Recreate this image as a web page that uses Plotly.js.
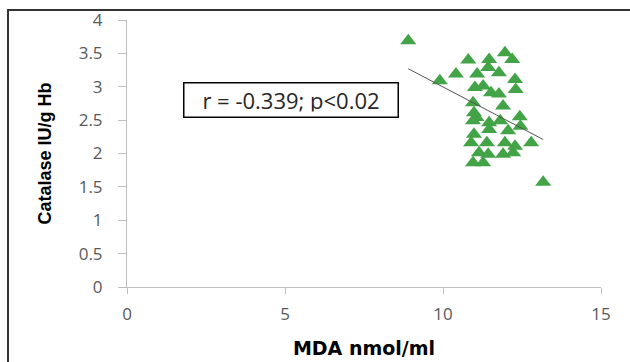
<!DOCTYPE html>
<html>
<head>
<meta charset="utf-8">
<script src="https://cdn.plot.ly/plotly-3.0.1.min.js"></script>
<style>
  html, body { margin: 0; padding: 0; background: #fff; }
  #wrap { position: relative; width: 630px; height: 362px; overflow: hidden; }
  #chart { width: 630px; height: 362px; }
  #frame { position: absolute; left: 7px; top: 9px; width: 640px; height: 400px;
           border-left: 2px solid #333; border-top: 2px solid #333; pointer-events: none; }
</style>
</head>
<body>
<div id="wrap">
  <div id="chart"></div>
  <div id="frame"></div>
</div>
<script>
// MDA (nmol/ml) values
const mda = [8.90, 9.90, 10.41, 10.80, 11.08, 11.01, 11.46, 11.43, 11.77, 11.96,
             12.19, 12.28, 12.30, 11.27, 11.52, 11.77, 10.95, 11.90, 10.98, 11.06,
             10.95, 11.46, 11.81, 12.43, 11.46, 12.06, 12.45, 10.98, 10.89, 11.39,
             12.79, 11.96, 12.28, 11.14, 11.43, 11.90, 12.22, 10.95, 11.27, 13.17];
// Catalase (IU/g Hb) values
const catalase = [3.69, 3.09, 3.19, 3.40, 3.19, 2.99, 3.41, 3.29, 3.21, 3.51,
                  3.41, 3.11, 2.96, 3.01, 2.91, 2.89, 2.76, 2.71, 2.61, 2.54,
                  2.49, 2.46, 2.49, 2.55, 2.36, 2.34, 2.41, 2.29, 2.16, 2.16,
                  2.16, 2.16, 2.11, 2.01, 1.99, 1.99, 2.01, 1.86, 1.86, 1.57];
// Trend line end points
const trendX = [8.90, 13.17];
const trendY = [3.27, 2.21];
const xTicks = [0, 5, 10, 15];
const yTicks = [0, 0.5, 1, 1.5, 2, 2.5, 3, 3.5, 4];
const annotationText = 'r = -0.339; p<0.02';

const tickFont = {family: 'Open Sans, sans-serif', size: 17, color: '#595959'};

const data = [
  {
    x: mda, y: catalase, type: 'scatter', mode: 'markers',
    marker: {symbol: 'triangle-up', size: 14, color: '#43a447'},
    hoverinfo: 'x+y'
  },
  {
    x: trendX, y: trendY, type: 'scatter', mode: 'lines',
    line: {color: '#555555', width: 1}
  }
];

const layout = {
  width: 630, height: 362,
  margin: {l: 127, r: 29, t: 20, b: 75},
  paper_bgcolor: '#fff', plot_bgcolor: '#fff',
  showlegend: false,
  xaxis: {
    range: [0, 15], tickvals: xTicks, ticktext: xTicks.map(String),
    showgrid: false, zeroline: false, showline: true, linecolor: '#bfbfbf', linewidth: 1,
    ticks: 'outside', ticklen: 6, tickcolor: '#bfbfbf', tickfont: tickFont,
    ticklabelstandoff: 6,
    title: {text: '<b>MDA nmol/ml</b>', standoff: 17,
            font: {family: 'DejaVu Sans, sans-serif', size: 19, color: '#000'}}
  },
  yaxis: {
    range: [0, 4], tickvals: yTicks, ticktext: yTicks.map(String),
    showgrid: false, zeroline: false, showline: true, linecolor: '#bfbfbf', linewidth: 1,
    ticks: 'outside', ticklen: 8, tickcolor: '#bfbfbf', tickfont: tickFont,
    ticklabelstandoff: 12,
    title: {text: '<b>Catalase IU/g Hb</b>', standoff: 22,
            font: {family: 'Liberation Sans, Arial, sans-serif', size: 18, color: '#000'}}
  },
  annotations: [{
    x: 5.2, y: 2.8, xref: 'x', yref: 'y', text: annotationText, showarrow: false,
    font: {family: 'Open Sans, sans-serif', size: 22, color: '#262626'},
    bordercolor: '#000', borderwidth: 1.5, borderpad: 5, bgcolor: '#fff',
    xanchor: 'center', yanchor: 'middle', width: 203, height: 23
  }]
};

Plotly.newPlot('chart', data, layout, {staticPlot: true});
</script>
</body>
</html>
